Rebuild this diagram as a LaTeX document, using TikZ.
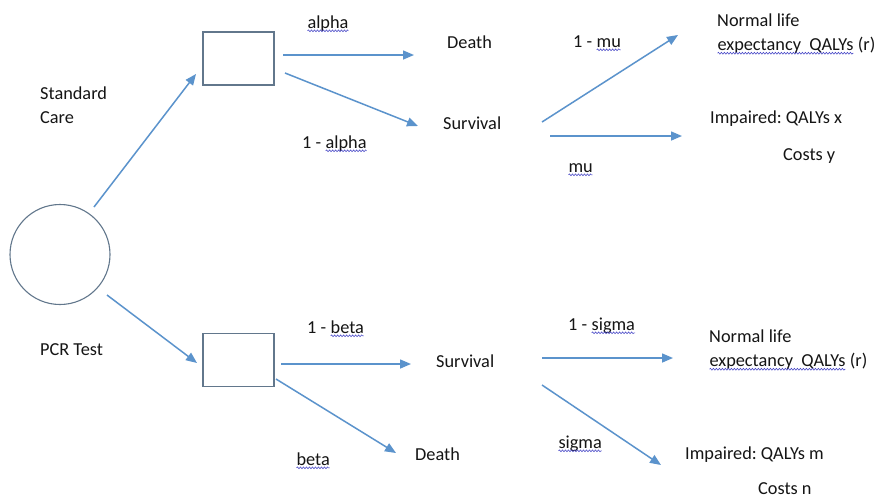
\documentclass[tikz,border=0pt]{standalone}
\usepackage{fontspec}
\setmainfont{Carlito}
\usetikzlibrary{arrows.meta,decorations.pathmorphing}
\frenchspacing
\definecolor{arrowc}{HTML}{5B93CC}
\definecolor{shapec}{HTML}{62778C}
\definecolor{textc}{HTML}{151515}
\definecolor{squigc}{HTML}{4B4BC8}
\newcommand\squig[1]{\tikz[baseline=(sqw.base)]{\node[inner sep=0pt,outer sep=0pt] (sqw) {#1};
  \draw[squigc, line width=0.6pt, decorate, decoration={snake, amplitude=0.9pt, segment length=3pt}]
    ([yshift=-2.8pt]sqw.base west) -- ([yshift=-2.8pt]sqw.base east);}}
\tikzset{
  lbl/.style={inner sep=0pt, anchor=base west, text=textc, font=\fontsize{18.3}{24}\selectfont},
  mlbl/.style={inner sep=0pt, anchor=north west, align=left, text=textc, font=\fontsize{18.3}{24}\selectfont},
  boxnode/.style={draw=shapec, line width=1.1pt, minimum width=71pt, minimum height=53pt, inner sep=0pt},
  chance/.style={circle, draw=shapec, line width=1.1pt, minimum size=100pt, inner sep=0pt},
  arr/.style={draw=arrowc, line width=1.5pt, -{Triangle[length=11pt,width=9pt]}}
}
\begin{document}
\begin{tikzpicture}[x=1pt,y=-1pt]
\useasboundingbox[fill=white] (0,0) rectangle (880,499);

% shapes
\node[chance] (root) at (60,254.5) {};
\node[boxnode] (b1) at (238.5,58.5) {};
\node[boxnode] (b2) at (238.5,360) {};

% labels
\node[mlbl] (sc) at (40,86.5) {Standard\\Care};
\node[lbl] (pcr) at (40,355) {PCR Test};
\node[lbl] (al) at (307,28) {\squig{alpha}};
\node[lbl] (oal) at (302,148) {1 - \squig{alpha}};
\node[lbl] (d1) at (447,48) {Death};
\node[lbl] (s1) at (443,129) {Survival};
\node[lbl] (omu) at (573,47) {1 - \squig{mu}};
\node[lbl] (mu) at (568,172) {\squig{mu}};
\node[mlbl] (n1) at (717,13.5) {Normal life\\\squig{expectancy\ \ QALYs} (r)};
\node[mlbl] (i1) at (710,110.5) {Impaired: QALYs x\\[13pt]\hspace*{73pt}Costs y};
\node[lbl] (obe) at (307,333) {1 - \squig{beta}};
\node[lbl] (be) at (296,465) {\squig{beta}};
\node[lbl] (s2) at (436,367) {Survival};
\node[lbl] (d2) at (415,460) {Death};
\node[lbl] (osi) at (568,330) {1 - \squig{sigma}};
\node[lbl] (si) at (558,448) {\squig{sigma}};
\node[mlbl] (n2) at (709,329.5) {Normal life\\\squig{expectancy\ \ QALYs} (r)};
\node[mlbl] (i2) at (685,446.5) {Impaired: QALYs m\\[11pt]\hspace*{73pt}Costs n};

% connector end points
\coordinate (r1) at (94,207);   \coordinate (b1in) at (196,74);
\coordinate (r2) at (107,295);  \coordinate (b2in) at (197,363);
\coordinate (b1a) at (283,55);  \coordinate (d1in) at (414,55);
\coordinate (b1b) at (285,73);  \coordinate (s1in) at (418,126);
\coordinate (b2a) at (281,364); \coordinate (s2in) at (411,364);
\coordinate (b2b) at (276,379); \coordinate (d2in) at (396,453);
\coordinate (s1a) at (542,122); \coordinate (n1in) at (678,35);
\coordinate (s1b) at (550,136); \coordinate (i1in) at (682,136);
\coordinate (s2a) at (542,358); \coordinate (n2in) at (673,358);
\coordinate (s2b) at (542,385); \coordinate (i2in) at (661,465);

\draw[arr] (r1) -- (b1in);
\draw[arr] (r2) -- (b2in);
\draw[arr] (b1a) -- (d1in);
\draw[arr] (b1b) -- (s1in);
\draw[arr] (b2a) -- (s2in);
\draw[arr] (b2b) -- (d2in);
\draw[arr] (s1a) -- (n1in);
\draw[arr] (s1b) -- (i1in);
\draw[arr] (s2a) -- (n2in);
\draw[arr] (s2b) -- (i2in);
\end{tikzpicture}
\end{document}
